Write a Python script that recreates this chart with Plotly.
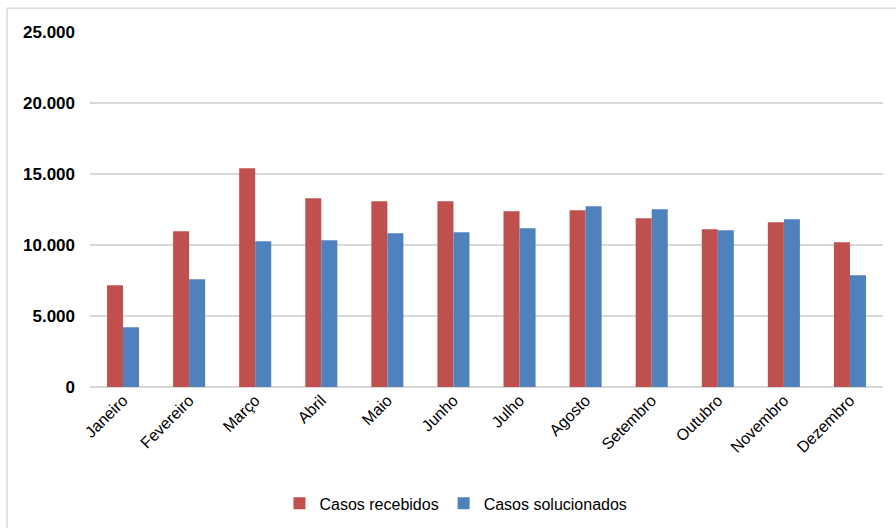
import plotly.graph_objects as go

meses = ["Janeiro", "Fevereiro", "Março", "Abril", "Maio", "Junho",
         "Julho", "Agosto", "Setembro", "Outubro", "Novembro", "Dezembro"]
casos_recebidos = [7160, 10970, 15400, 13290, 13080, 13080,
                   12370, 12440, 11880, 11110, 11600, 10190]
casos_solucionados = [4200, 7590, 10260, 10330, 10820, 10890,
                      11180, 12730, 12510, 11040, 11810, 7870]
y_ticks = [0, 5000, 10000, 15000, 20000, 25000]

FONT = "Liberation Sans, Arial, sans-serif"

fig = go.Figure()
fig.add_trace(go.Bar(x=meses, y=casos_recebidos, name="Casos recebidos",
                     marker=dict(color="#C0504D", line=dict(width=0))))
fig.add_trace(go.Bar(x=meses, y=casos_solucionados, name="Casos solucionados",
                     marker=dict(color="#4F81BD", line=dict(width=0))))

# outer chart border (right and bottom edges run past the page)
fig.add_shape(type="rect", xref="paper", yref="paper",
              x0=-0.1047, x1=1.06, y0=-0.5, y1=1.0668,
              line=dict(color="#D9D9D9", width=1.5), fillcolor="rgba(0,0,0,0)",
              layer="below")

fig.update_layout(
    width=896, height=528,
    margin=dict(l=90, r=13, t=32, b=141, autoexpand=False),
    paper_bgcolor="white", plot_bgcolor="white",
    barmode="group", bargap=0.515, bargroupgap=0,
    separators=",.",
    font=dict(family=FONT, color="#000000"),
    showlegend=True,
    legend=dict(orientation="h", x=0.4615, xanchor="center", y=-0.328, yanchor="middle",
                font=dict(size=16, family=FONT), itemwidth=30, traceorder="normal"),
    xaxis=dict(tickangle=-45, tickfont=dict(size=16, family=FONT),
               showgrid=False, showline=False, ticks="", automargin=False),
    yaxis=dict(range=[0, 25000], tickvals=y_ticks, tickformat=",.0f",
               tickfont=dict(size=17, family=FONT, weight="bold"),
               showgrid=True, gridcolor="#D9D9D9", gridwidth=1.5,
               zeroline=True, zerolinecolor="#D9D9D9", zerolinewidth=1.5,
               showline=False, ticks="", ticklabelstandoff=14, automargin=False),
)

fig.write_html("out.html")
